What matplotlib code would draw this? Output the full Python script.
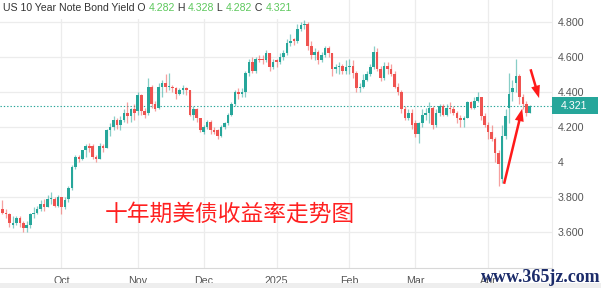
import matplotlib
matplotlib.use("Agg")
import matplotlib.pyplot as plt
from matplotlib.patches import Rectangle

# ---------------- data ----------------
sep_days = [6, 9, 10, 11, 12, 13, 16, 17, 18, 19, 20, 23, 24, 25, 26, 27, 30]
oct_days = [1, 2, 3, 4, 7, 8, 9, 10, 11, 15, 16, 17, 18, 21, 22, 23, 24, 25, 28, 29, 30, 31]
nov_days = [1, 4, 5, 6, 7, 8, 12, 13, 14, 15, 18, 19, 20, 21, 22, 25, 26, 27, 29]
dec_days = [2, 3, 4, 5, 6, 9, 10, 11, 12, 13, 16, 17, 18, 19, 20, 23, 24, 26, 27, 30, 31]
jan_days = [2, 3, 6, 7, 8, 9, 10, 13, 14, 15, 16, 17, 21, 22, 23, 24, 27, 28, 29, 30, 31]
feb_days = [3, 4, 5, 6, 7, 10, 11, 12, 13, 14, 18, 19, 20, 21, 24, 25, 26, 27, 28]
mar_days = [3, 4, 5, 6, 7, 10, 11, 12, 13, 14, 17, 18, 19, 20, 21, 24, 25, 26, 27, 28, 31]
apr_days = [1, 2, 3, 4, 7, 8, 9, 10, 11, 14, 15, 16, 17]

# (open, high, low, close)
sep_ohlc = [(3.73, 3.78, 3.70, 3.71), (3.71, 3.73, 3.68, 3.70), (3.70, 3.71, 3.63, 3.65),
            (3.64, 3.69, 3.62, 3.65), (3.65, 3.69, 3.64, 3.68), (3.68, 3.69, 3.63, 3.65),
            (3.65, 3.66, 3.60, 3.62), (3.62, 3.66, 3.60, 3.64), (3.64, 3.71, 3.62, 3.70),
            (3.70, 3.74, 3.68, 3.71), (3.71, 3.75, 3.70, 3.73), (3.73, 3.78, 3.72, 3.76),
            (3.76, 3.79, 3.72, 3.74), (3.74, 3.81, 3.74, 3.79), (3.79, 3.83, 3.76, 3.795),
            (3.79, 3.80, 3.74, 3.75), (3.75, 3.81, 3.74, 3.80)]
oct_ohlc = [(3.80, 3.80, 3.70, 3.74), (3.74, 3.80, 3.73, 3.78), (3.79, 3.86, 3.77, 3.85),
            (3.85, 3.98, 3.84, 3.97), (3.97, 4.04, 3.96, 4.03), (4.03, 4.04, 4.00, 4.02),
            (4.02, 4.07, 4.01, 4.07), (4.07, 4.10, 4.03, 4.09), (4.09, 4.11, 4.06, 4.08),
            (4.09, 4.10, 4.02, 4.03), (4.03, 4.04, 4.00, 4.02), (4.02, 4.11, 4.02, 4.09),
            (4.09, 4.10, 4.06, 4.08), (4.08, 4.19, 4.08, 4.18), (4.18, 4.22, 4.15, 4.20),
            (4.20, 4.26, 4.18, 4.24), (4.24, 4.25, 4.19, 4.21), (4.21, 4.26, 4.18, 4.24),
            (4.24, 4.30, 4.23, 4.28), (4.28, 4.34, 4.22, 4.26), (4.26, 4.31, 4.23, 4.30),
            (4.30, 4.33, 4.24, 4.28)]
nov_ohlc = [(4.29, 4.40, 4.27, 4.38), (4.38, 4.39, 4.27, 4.29), (4.29, 4.31, 4.25, 4.27),
            (4.28, 4.48, 4.27, 4.43), (4.43, 4.44, 4.31, 4.33), (4.33, 4.35, 4.29, 4.30),
            (4.31, 4.45, 4.30, 4.43), (4.43, 4.47, 4.37, 4.45), (4.45, 4.50, 4.40, 4.43),
            (4.43, 4.51, 4.41, 4.435), (4.43, 4.44, 4.40, 4.42), (4.42, 4.43, 4.36, 4.39),
            (4.39, 4.42, 4.38, 4.41), (4.41, 4.44, 4.39, 4.42), (4.42, 4.43, 4.38, 4.41),
            (4.41, 4.41, 4.26, 4.27), (4.27, 4.32, 4.24, 4.30), (4.30, 4.31, 4.23, 4.25),
            (4.25, 4.25, 4.17, 4.18)]
dec_ohlc = [(4.17, 4.21, 4.16, 4.20), (4.20, 4.24, 4.19, 4.23), (4.23, 4.24, 4.16, 4.18),
            (4.18, 4.20, 4.16, 4.17), (4.18, 4.19, 4.13, 4.15), (4.15, 4.21, 4.14, 4.20),
            (4.20, 4.23, 4.19, 4.22), (4.22, 4.28, 4.21, 4.27), (4.27, 4.34, 4.26, 4.33),
            (4.33, 4.41, 4.32, 4.40), (4.40, 4.42, 4.36, 4.39), (4.39, 4.42, 4.37, 4.40),
            (4.40, 4.52, 4.37, 4.51), (4.51, 4.59, 4.49, 4.57), (4.57, 4.60, 4.51, 4.52),
            (4.52, 4.60, 4.51, 4.59), (4.59, 4.61, 4.57, 4.58), (4.59, 4.61, 4.56, 4.58),
            (4.58, 4.64, 4.57, 4.62), (4.62, 4.62, 4.52, 4.54), (4.54, 4.59, 4.53, 4.57)]
jan_ohlc = [(4.58, 4.59, 4.54, 4.57), (4.57, 4.62, 4.56, 4.60), (4.60, 4.64, 4.58, 4.62),
            (4.62, 4.70, 4.61, 4.68), (4.68, 4.73, 4.66, 4.69), (4.70, 4.71, 4.67, 4.69),
            (4.69, 4.79, 4.68, 4.76), (4.76, 4.80, 4.75, 4.78), (4.78, 4.81, 4.76, 4.79),
            (4.79, 4.80, 4.64, 4.66), (4.66, 4.69, 4.59, 4.61), (4.61, 4.65, 4.58, 4.63),
            (4.63, 4.64, 4.56, 4.58), (4.58, 4.63, 4.57, 4.61), (4.61, 4.66, 4.60, 4.65),
            (4.65, 4.66, 4.60, 4.62), (4.62, 4.62, 4.49, 4.53), (4.53, 4.56, 4.51, 4.54),
            (4.54, 4.57, 4.50, 4.55), (4.55, 4.56, 4.50, 4.52), (4.52, 4.58, 4.50, 4.54)]
feb_ohlc = [(4.54, 4.59, 4.50, 4.55), (4.55, 4.58, 4.48, 4.51), (4.51, 4.52, 4.40, 4.42),
            (4.42, 4.45, 4.40, 4.43), (4.43, 4.50, 4.42, 4.47), (4.47, 4.52, 4.46, 4.50),
            (4.50, 4.56, 4.49, 4.54), (4.54, 4.66, 4.53, 4.63), (4.63, 4.65, 4.52, 4.53),
            (4.53, 4.55, 4.46, 4.48), (4.48, 4.57, 4.47, 4.55), (4.55, 4.57, 4.50, 4.53),
            (4.53, 4.56, 4.49, 4.50), (4.50, 4.52, 4.42, 4.43), (4.43, 4.45, 4.38, 4.40),
            (4.40, 4.41, 4.28, 4.30), (4.30, 4.32, 4.24, 4.25), (4.25, 4.30, 4.24, 4.28),
            (4.28, 4.30, 4.19, 4.21)]
mar_ohlc = [(4.22, 4.24, 4.14, 4.16), (4.16, 4.23, 4.11, 4.22), (4.22, 4.30, 4.20, 4.27),
            (4.27, 4.31, 4.24, 4.28), (4.28, 4.34, 4.22, 4.31), (4.31, 4.32, 4.19, 4.21),
            (4.21, 4.30, 4.20, 4.28), (4.28, 4.33, 4.26, 4.32), (4.32, 4.33, 4.26, 4.27),
            (4.27, 4.33, 4.26, 4.31), (4.31, 4.34, 4.28, 4.30), (4.30, 4.32, 4.27, 4.28),
            (4.28, 4.29, 4.22, 4.25), (4.25, 4.27, 4.20, 4.24), (4.24, 4.26, 4.20, 4.25),
            (4.25, 4.35, 4.25, 4.34), (4.34, 4.35, 4.30, 4.31), (4.31, 4.37, 4.30, 4.35),
            (4.35, 4.40, 4.34, 4.37), (4.37, 4.37, 4.24, 4.26), (4.26, 4.28, 4.20, 4.21)]
apr_ohlc = [(4.21, 4.23, 4.13, 4.17), (4.17, 4.21, 4.12, 4.13), (4.13, 4.14, 4.00, 4.05),
            (4.05, 4.07, 3.86, 3.99), (3.90, 4.21, 3.88, 4.15), (4.15, 4.30, 4.13, 4.26),
            (4.31, 4.51, 4.22, 4.39), (4.40, 4.47, 4.35, 4.42), (4.45, 4.59, 4.40, 4.49),
            (4.49, 4.50, 4.33, 4.37), (4.37, 4.39, 4.30, 4.33), (4.33, 4.35, 4.26, 4.28),
            (4.282, 4.328, 4.282, 4.321)]

month_labels = ["Oct", "Nov", "Dec", "2025", "Feb", "Mar", "Apr"]
y_levels = [4.8, 4.6, 4.4, 4.2, 4.0, 3.8, 3.6]
y_labels = ["4.800", "4.600", "4.400", "4.200", "4", "3.800", "3.600"]
title_name = "US 10 Year Note Bond Yield"
cn_title = "十年期美债收益率走势图"
watermark = "www.365jz.com"

# ---------------- assemble ----------------
months = [sep_days, oct_days, nov_days, dec_days, jan_days, feb_days, mar_days, apr_days]
ohlc_all = sep_ohlc + oct_ohlc + nov_ohlc + dec_ohlc + jan_ohlc + feb_ohlc + mar_ohlc + apr_ohlc
month_start_idx = []
pos = 0
for k, m in enumerate(months):
    if k > 0:
        month_start_idx.append(pos)
    pos += len(m)

TEAL = "#26a69a"
RED = "#ef5350"

W, H = 601, 288
fig = plt.figure(figsize=(W / 100, H / 100), dpi=100)
ax = fig.add_axes([0, 20 / H, 552 / W, 268 / H])
ax.set_xlim(-0.72, 158.4)
ax.set_ylim(4.8 - (268 - 22) / 175, 4.8 + 22 / 175)

for i, (o, h, l, c) in enumerate(ohlc_all):
    col = TEAL if c >= o else RED
    ax.vlines(i, l, h, color=col, lw=0.9, alpha=0.55, zorder=3)
    bot = min(o, c)
    ht = max(abs(c - o), 0.005)
    ax.bar(i, ht, bottom=bot, width=0.75, color=col, lw=0, zorder=4)

last_close = ohlc_all[-1][3]
ax.axhline(last_close, color=TEAL, lw=0.8, ls=(0, (1.2, 1.8)), zorder=2)

ax.set_xticks(month_start_idx)
ax.set_xticklabels(month_labels)
ax.set_yticks(y_levels)
ax.set_yticklabels(y_labels)
ax.yaxis.tick_right()
ax.tick_params(axis="both", length=0, colors="#555555", labelsize=7.7)
ax.tick_params(axis="x", pad=6)
ax.tick_params(axis="y", pad=4)
for lab in ax.get_xticklabels() + ax.get_yticklabels():
    lab.set_family("Liberation Sans")
ax.grid(True, color="#ececec", lw=0.9, zorder=0)
ax.set_axisbelow(True)
for s in ["top", "left"]:
    ax.spines[s].set_visible(False)
ax.spines["bottom"].set_color("#d8d8d8")
ax.spines["right"].set_color("#ececec")

# bottom gray band
fig.patches.append(Rectangle((0, 0), 1, 5 / H, transform=fig.transFigure,
                             facecolor="#eeeeee", edgecolor="none", zorder=1))
# white area behind title
fig.patches.append(Rectangle((0, (H - 19) / H), 300 / W, 19 / H, transform=fig.transFigure,
                             facecolor="white", edgecolor="none", zorder=1))

# price label on right axis
yl = ax.transData.transform((0, last_close))[1]
fig.patches.append(Rectangle((552 / W, (yl - 8.5) / H), 46 / W, 17 / H, transform=fig.transFigure,
                             facecolor=TEAL, edgecolor="none", zorder=5))
fig.text(574 / W, yl / H, f"{last_close:.3f}", color="white", fontsize=7.7,
         family="Liberation Sans", ha="center", va="center", zorder=6)

# legend line at top
o, h, l, c = ohlc_all[-1]
pieces = [(title_name + " O ", "#333333"), (f"{o:.3f}", "#5cc85c"), (" H ", "#333333"),
          (f"{h:.3f}", "#5cc85c"), (" L ", "#333333"), (f"{l:.3f}", "#5cc85c"),
          (" C ", "#333333"), (f"{c:.3f}", "#5cc85c")]
fig.canvas.draw()
r = fig.canvas.get_renderer()
xp = 3
for s, col in pieces:
    t = fig.text(xp / W, (H - 11) / H, s, color=col, fontsize=7.6, family="Liberation Sans",
                 ha="left", va="baseline", zorder=6)
    xp = t.get_window_extent(r).x1

# Chinese caption
ax.text(105 / 552, 1 - 214 / 268, cn_title, transform=ax.transAxes, color="#ff2020",
        fontsize=16.4, family=["Noto Sans CJK SC", "DejaVu Sans"], ha="left", va="center", zorder=6)

# red arrows
ax.annotate("", xy=(150.0, 4.32), xytext=(144.4, 3.86),
            arrowprops=dict(arrowstyle="simple,head_length=0.9,head_width=0.65,tail_width=0.18",
                            fc="#ff1a1a", ec="none"), zorder=7)
ax.annotate("", xy=(154.9, 4.35), xytext=(152.0, 4.545),
            arrowprops=dict(arrowstyle="simple,head_length=0.9,head_width=0.65,tail_width=0.18",
                            fc="#ff1a1a", ec="none"), zorder=7)

# watermark
fig.text(481 / W, 6 / H, watermark, color="#1c2c6a", fontsize=13, family="Liberation Serif",
         weight="bold", ha="left", va="baseline", zorder=8)

fig.savefig("out.png", dpi=100)
